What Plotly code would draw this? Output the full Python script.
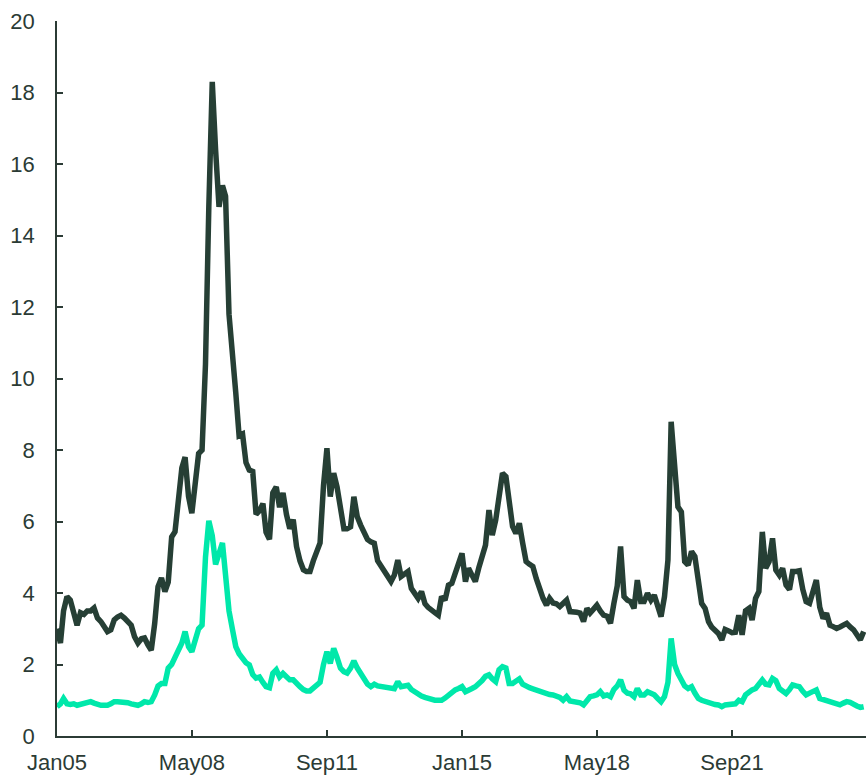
import pandas as pd
import plotly.graph_objects as go

# monthly observations, Jan 2005 .. Dec 2024
months = pd.date_range("2005-01-01", periods=240, freq="MS")

upper_series = [
    3.0, 2.6, 3.5, 3.9, 3.8, 3.5, 3.1, 3.45, 3.4, 3.5, 3.5, 3.58,
    3.3, 3.2, 3.05, 2.92, 2.97, 3.25, 3.33, 3.38, 3.3, 3.2, 3.1, 2.78,
    2.6, 2.72, 2.74, 2.55, 2.4, 3.15, 4.18, 4.42, 4.04, 4.3, 5.57, 5.71,
    6.7, 7.5, 7.8, 6.7, 6.23, 7.1, 7.9, 8.0, 10.4, 14.8, 18.3, 16.4,
    14.8, 15.4, 15.1, 11.8, 10.5, 9.6, 8.4, 8.45, 7.65, 7.44, 7.4, 6.2,
    6.3, 6.5, 5.7, 5.5, 6.8, 6.97, 6.4, 6.8, 6.2, 5.8, 6.05, 5.3,
    4.9, 4.65, 4.6, 4.6, 4.9, 5.2, 5.4, 7.0, 8.05, 6.7, 7.35, 6.97,
    6.4, 5.8, 5.8, 5.85, 6.69, 6.13, 5.9, 5.71, 5.5, 5.43, 5.39, 4.9,
    4.75, 4.64, 4.5, 4.32, 4.5, 4.92, 4.46, 4.55, 4.6, 4.13, 3.95, 3.85,
    4.04, 3.7, 3.6, 3.5, 3.45, 3.38, 3.9, 3.8, 4.22, 4.27, 4.55, 4.83,
    5.11, 4.32, 4.69, 4.5, 4.32, 4.7, 5.0, 5.34, 6.32, 5.62, 6.04, 6.7,
    7.35, 7.26, 6.5, 5.86, 5.67, 5.95, 5.4, 4.88, 4.8, 4.74, 4.4, 4.08,
    3.85, 3.66, 3.85, 3.72, 3.7, 3.62, 3.7, 3.8, 3.48, 3.48, 3.46, 3.44,
    3.2, 3.57, 3.44, 3.55, 3.66, 3.5, 3.38, 3.35, 3.15, 3.7, 4.2, 5.3,
    3.9, 3.8, 3.76, 3.57, 4.36, 3.76, 3.76, 3.99, 3.8, 3.94, 3.62, 3.34,
    3.9, 4.92, 8.79, 7.72, 6.41, 6.27, 4.88, 4.78, 5.16, 5.02, 4.2, 3.71,
    3.57, 3.2, 3.05, 2.95, 2.87, 2.69, 2.98, 2.94, 2.89, 2.9, 3.38, 2.83,
    3.5, 3.57, 3.24, 3.85, 4.04, 5.71, 4.69, 4.88, 5.53, 4.64, 4.5, 4.69,
    4.22, 4.1, 4.6, 4.6, 4.62, 4.1, 3.76, 3.71, 3.99, 4.36, 3.6, 3.29,
    3.43, 3.1, 3.06, 3.01, 3.05, 3.1, 3.15, 3.05, 2.97, 2.83, 2.69, 2.92,
]

lower_series = [
    0.82, 0.9, 1.05, 0.9, 0.88, 0.9, 0.86, 0.88, 0.9, 0.93, 0.96, 0.92,
    0.88, 0.86, 0.86, 0.86, 0.9, 0.96, 0.96, 0.96, 0.96, 0.93, 0.9, 0.88,
    0.86, 0.9, 0.96, 0.94, 0.96, 1.15, 1.4, 1.47, 1.47, 1.9, 2.0, 2.2,
    2.4, 2.6, 2.92, 2.5, 2.36, 2.7, 3.0, 3.1, 5.0, 6.02, 5.6, 4.8,
    5.1, 5.4, 4.5, 3.5, 3.0, 2.5, 2.3, 2.15, 2.05, 1.99, 1.72, 1.62,
    1.65, 1.5, 1.38, 1.35, 1.75, 1.85, 1.65, 1.75, 1.65, 1.57, 1.57, 1.45,
    1.38, 1.3, 1.26, 1.26, 1.35, 1.4, 1.5, 2.0, 2.36, 2.03, 2.45, 2.2,
    1.9, 1.8, 1.76, 1.9, 2.1, 1.9, 1.75, 1.62, 1.45, 1.38, 1.45, 1.4,
    1.38, 1.38, 1.36, 1.36, 1.32, 1.52, 1.38, 1.4, 1.42, 1.3, 1.24, 1.15,
    1.12, 1.08, 1.05, 1.03, 1.0, 1.0, 1.0, 1.06, 1.15, 1.22, 1.29, 1.33,
    1.38, 1.24, 1.3, 1.33, 1.38, 1.45, 1.55, 1.67, 1.71, 1.6, 1.52, 1.85,
    1.94, 1.9, 1.47, 1.47, 1.55, 1.6, 1.45, 1.38, 1.35, 1.32, 1.28, 1.24,
    1.2, 1.17, 1.16, 1.15, 1.12, 1.08, 1.0, 1.1, 0.98, 0.96, 0.96, 0.93,
    0.87, 1.0, 1.1, 1.12, 1.15, 1.24, 1.12, 1.15, 1.1, 1.3, 1.4, 1.57,
    1.28, 1.2, 1.18, 1.1, 1.33, 1.15, 1.15, 1.24, 1.2, 1.15, 1.05, 0.96,
    1.1, 1.5, 2.73, 2.0, 1.75, 1.57, 1.4, 1.33, 1.38, 1.2, 1.05, 1.0,
    0.96, 0.95, 0.91, 0.88, 0.87, 0.82, 0.87, 0.88, 0.87, 0.9, 1.0, 0.96,
    1.15, 1.24, 1.29, 1.33, 1.45, 1.57, 1.45, 1.43, 1.61, 1.55, 1.33, 1.25,
    1.19, 1.3, 1.43, 1.4, 1.38, 1.25, 1.15, 1.2, 1.24, 1.29, 1.05, 1.02,
    1.0, 0.97, 0.93, 0.9, 0.87, 0.92, 0.96, 0.94, 0.87, 0.84, 0.8, 0.82,
]

tick_dates = ["2005-01-01", "2008-05-01", "2011-09-01",
              "2015-01-01", "2018-05-01", "2021-09-01"]
y_ticks = list(range(0, 21, 2))

DARK = "#263f35"
TEAL = "#00e8aa"
AXIS = "#2b3b35"

fig = go.Figure()
fig.add_trace(go.Scatter(x=months, y=upper_series, mode="lines",
                         line=dict(color=DARK, width=5.5)))
fig.add_trace(go.Scatter(x=months, y=lower_series, mode="lines",
                         line=dict(color=TEAL, width=5.5)))

fig.update_layout(
    width=866, height=775,
    margin=dict(l=57, r=0, t=21, b=39),
    plot_bgcolor="white", paper_bgcolor="white",
    showlegend=False,
    font=dict(family="Liberation Sans, Arial, sans-serif", size=22, color=AXIS),
)
fig.update_xaxes(
    range=["2005-01-01", "2024-12-22"],
    tickvals=tick_dates, tickformat="%b%y",
    showline=True, linecolor=AXIS, linewidth=1.5,
    ticks="inside", ticklen=6, tickwidth=1.5, tickcolor=AXIS,
    showgrid=False, zeroline=False, ticklabelstandoff=6, automargin=False,
)
fig.update_yaxes(
    range=[0, 20], tickvals=y_ticks,
    showline=True, linecolor=AXIS, linewidth=1.5,
    ticks="inside", ticklen=6, tickwidth=1.5, tickcolor=AXIS,
    showgrid=False, zeroline=False, ticklabelstandoff=16, automargin=False,
)

# the page's default body margin would shift the chart by 8px
fig.write_html("out.html",
               config={"displayModeBar": False},
               post_script="document.body.style.margin='0px';")
